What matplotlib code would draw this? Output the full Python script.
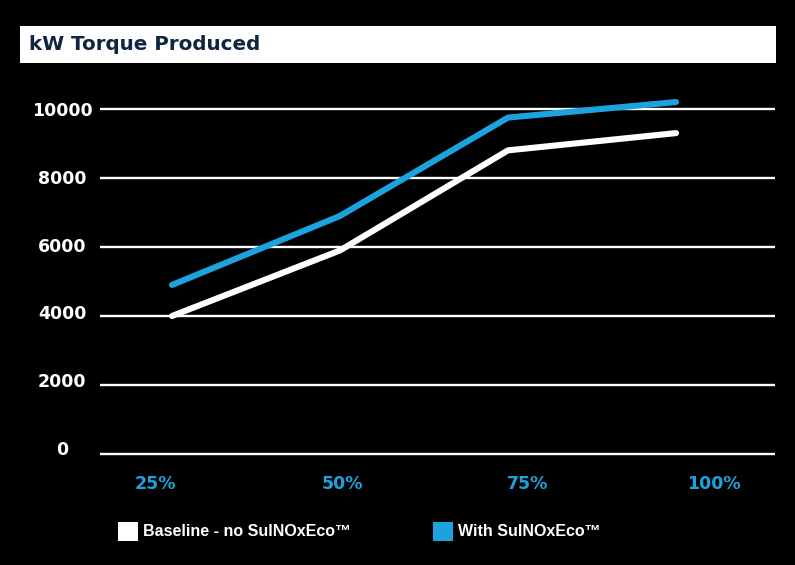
import matplotlib
matplotlib.use("Agg")
import matplotlib.pyplot as plt
from matplotlib.patches import Rectangle
from matplotlib.transforms import ScaledTranslation

# data
load_points=[0,1,2,3]
load_labels=["25%","50%","75%","100%"]
baseline_kw=[4000,5900,8800,9300]
sulnox_kw=[4900,6900,9750,10200]
y_ticks=[0,2000,4000,6000,8000,10000]

blue="#1ca3de"
navy="#0f2541"

W,H=795,565
fig=plt.figure(figsize=(W/100,H/100),dpi=100,facecolor="black")

def px(x,y):
    return x/W,1-y/H

# title bar
fig.add_artist(Rectangle(px(20,63),756/W,37/H,transform=fig.transFigure,facecolor="white",edgecolor="none"))
fig.text(*px(29,45),"kW Torque Produced",color=navy,fontsize=14.3,fontweight="bold",va="center",ha="left")

ax=fig.add_axes([100/W,(H-459.2)/H,675/W,(459.2-98.6)/H])
ax.set_facecolor("black")
ax.set_xlim(-72/168,603/168)
ax.set_ylim(-150,10300)

ax.plot(load_points,baseline_kw,color="white",lw=4.4,solid_capstyle="round",solid_joinstyle="round",zorder=3)
ax.plot(load_points,sulnox_kw,color=blue,lw=4.4,solid_capstyle="round",solid_joinstyle="round",zorder=4)

ax.set_yticks(y_ticks)
ax.set_yticklabels([str(v) for v in y_ticks])
ax.grid(axis="y",color="white",lw=1.7)
ax.tick_params(axis="y",length=0,pad=27.4,labelcolor="white",labelsize=12.5)
for i,lab in enumerate(ax.get_yticklabels()):
    lab.set_ha("center")
    lab.set_fontweight("bold")
    # labels sit a little above the lower gridlines in the original
    lab.set_transform(lab.get_transform()+ScaledTranslation(0,(5-i)*1.2/100,fig.dpi_scale_trans))

# x labels are spaced wider than the line points in the original
label_px=[155,342,528,714]
ax.set_xticks([(p-172)/168 for p in label_px])
ax.set_xticklabels(load_labels)
ax.tick_params(axis="x",length=0,pad=18,labelcolor=blue,labelsize=12.5)
for lab in ax.get_xticklabels():
    lab.set_va("center")
    lab.set_fontweight("bold")

for s in ax.spines.values():
    s.set_visible(False)

# legend
fig.add_artist(Rectangle(px(118,541),20/W,19/H,transform=fig.transFigure,facecolor="white",edgecolor="none"))
fig.text(*px(143,531),"Baseline - no SulNOxEco\u2122",color="white",fontsize=11.5,fontweight="bold",va="center",family="Liberation Sans")
fig.add_artist(Rectangle(px(433,541),20/W,19/H,transform=fig.transFigure,facecolor=blue,edgecolor="none"))
fig.text(*px(458,531),"With SulNOxEco\u2122",color="white",fontsize=11.5,fontweight="bold",va="center",family="Liberation Sans")

fig.savefig("out.png",dpi=100,facecolor="black")
